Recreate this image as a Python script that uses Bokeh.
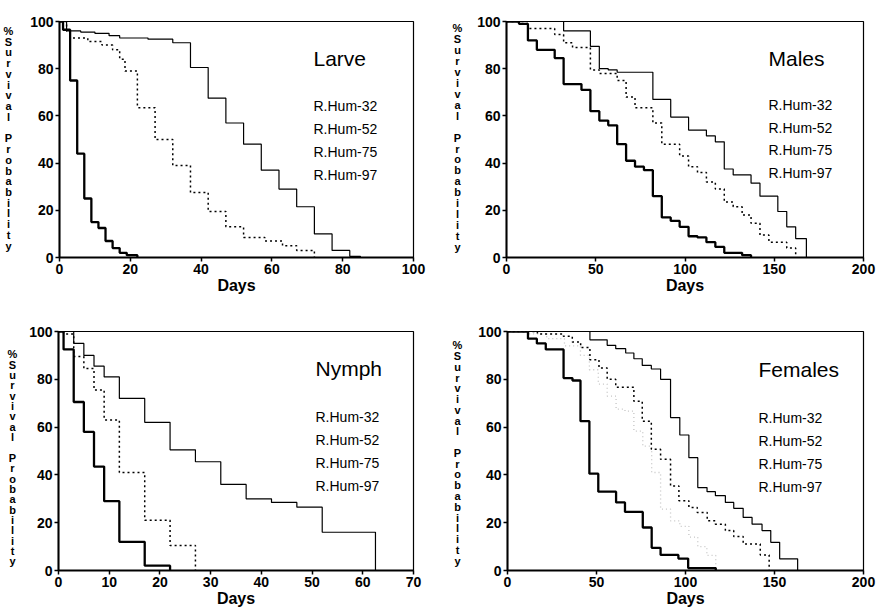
from bokeh.plotting import figure
from bokeh.layouts import column, row
from bokeh.models import Range1d, Label, FixedTicker, ColumnDataSource
from bokeh.core.properties import value
from bokeh.embed import file_html
from bokeh.resources import INLINE

FONT = "Liberation Sans"

# ---------------- data (days, % surviving) ----------------
larve_thick_x = [0, 1, 3, 5, 7, 9, 11, 13, 15, 17, 19, 22]
larve_thick_y = [100, 96.5, 75, 44, 25, 15, 12.5, 7, 4, 2, 1, 0]
larve_thin_x = [0, 2, 6, 10, 14, 17, 25, 32, 37, 42, 47, 52, 57, 62, 67, 72, 77, 82, 85]
larve_thin_y = [100, 96, 95.5, 95, 94, 93, 92.5, 91, 80.5, 67.5, 57, 48, 37, 29, 21.5, 10, 3, 0.5, 0]
larve_dot_x = [0, 2, 3, 8, 12, 15, 17, 18.5, 22, 27, 32, 37, 42, 47, 52, 58, 63, 67, 72]
larve_dot_y = [100, 96, 93, 91.5, 90, 88, 84, 79, 63.5, 50, 39, 27.5, 19.5, 13, 8.5, 7, 5, 3, 0]

males_thick_x = [0, 7, 12, 17, 27, 32, 42, 47, 52, 57, 62, 67, 72, 77, 82, 87, 92, 97, 102, 107, 112, 117, 122, 132, 137]
males_thick_y = [100, 99, 92, 88, 84.5, 73.5, 71, 62, 58, 56, 48, 41, 38.5, 37, 26, 17, 15.5, 13, 9, 8.5, 6.5, 4.5, 2, 1, 0]
males_thin_x = [0, 32, 47, 52, 57, 62, 82, 92, 102, 112, 117, 122, 127, 137, 142, 152, 157, 162, 168]
males_thin_y = [100, 96, 89.5, 80, 79.5, 78.5, 67, 59.5, 54, 51.5, 49, 37.5, 35, 31.5, 26, 19.5, 13, 8, 0]
males_dot_x = [0, 12, 27, 32, 37, 47, 52, 62, 67, 72, 82, 87, 97, 102, 107, 112, 117, 122, 127, 132, 137, 142, 147, 157, 162]
males_dot_y = [100, 97, 94.5, 91, 89, 79.5, 78, 75, 68, 63.5, 57, 48, 43, 38.5, 36, 32, 29, 23.5, 21.5, 18, 14.5, 9.5, 6.5, 4, 0]

nymph_thick_x = [0, 1, 3, 5, 7, 9, 12, 17, 22]
nymph_thick_y = [100, 92.5, 70.5, 58, 43.5, 29, 12, 2, 0]
nymph_thin_x = [0, 3, 5, 7, 9, 12, 17, 22, 27, 32, 37, 42, 47, 52, 62.5]
nymph_thin_y = [100, 95, 90, 85.5, 81, 72, 62, 50.5, 45.5, 36, 30, 28.5, 26.5, 16, 0]
nymph_dot_x = [0, 1, 3, 5, 7, 9, 12, 17, 22, 27]
nymph_dot_y = [100, 99, 89.5, 84.5, 75.5, 63, 41, 21, 10.5, 0]

fem_thick_x = [0, 11.5, 16.5, 21.5, 31.5, 36.5, 41, 46, 51, 61, 66, 76, 81, 86, 96, 101.5, 117]
fem_thick_y = [100, 97, 95, 92.5, 80.5, 79.5, 62.5, 40.5, 33, 28.5, 24.5, 18, 9.5, 6.5, 5, 1, 0]
fem_thin_x = [0, 46.3, 56, 60.8, 66.4, 71, 75.7, 80.8, 86, 91.6, 96.8, 101.9, 106.9, 112.1, 116.8, 122.4, 127.1, 132.4, 137.4, 143, 147.9, 152.9, 163]
fem_thin_y = [100, 96.5, 94.2, 92.8, 91, 88.6, 85.8, 84.3, 80, 64, 56.7, 47.2, 34.7, 33, 31.3, 28.5, 26, 22.2, 19.4, 16.7, 11.8, 4.9, 0]
fem_dot_x = [0, 16.8, 31.4, 36.4, 41.1, 46.3, 51.4, 56, 60.8, 71, 75.7, 80.8, 86, 91.6, 96.3, 101.9, 106.6, 112.2, 116.8, 122.4, 127.1, 132.4, 142, 147]
fem_dot_y = [100, 99, 98, 95.6, 93.3, 88.2, 84.7, 80, 76.7, 70.8, 62.5, 50.7, 46.5, 35.4, 29.2, 26.4, 24.3, 20.8, 19.4, 16.7, 14.2, 11.1, 6.5, 0]
fem_faint_x = [0, 12, 22, 32, 41, 46, 51, 56, 61, 66, 71, 76, 81, 86, 91.6, 96.8, 101.9, 106.9, 112, 117]
fem_faint_y = [100, 99, 97, 94, 90, 84, 78, 73, 67.5, 66.7, 58.3, 52, 41, 25.7, 20.8, 18.5, 14, 10, 6.3, 0]

strains = ["R.Hum-32", "R.Hum-52", "R.Hum-75", "R.Hum-97"]
y_ticks = [0, 20, 40, 60, 80, 100]
ylabel_chars = list("%Survival") + [""] + list("Probability")

LAB_W = 24


def ylabel_fig(height, cx, top, bottom):
    """Narrow figure holding the vertically stacked y-axis title."""
    f = figure(width=LAB_W, height=height, x_range=Range1d(0, LAB_W), y_range=Range1d(height, 0),
               output_backend="svg", toolbar_location=None, x_axis_location=None,
               y_axis_location=None, min_border=0)
    f.outline_line_color = None
    f.xgrid.visible = False
    f.ygrid.visible = False
    f.background_fill_color = "white"
    f.border_fill_color = "white"
    n = len(ylabel_chars)
    step = (bottom - top) / (n - 1)
    src = ColumnDataSource(dict(x=[cx] * n, y=[top + i * step for i in range(n)], t=ylabel_chars))
    f.text(x="x", y="y", text="t", source=src, text_font=value(FONT), text_font_style="bold",
           text_font_size="11px", text_color="black", text_align="center", text_baseline="middle")
    return f


def panel(width, height, bl, br, bt, bb, xmax, xticks, title, curves, title_px, legend_px):
    fw = width - bl - br
    fh = height - bt - bb
    p = figure(width=width, height=height, x_range=Range1d(0, xmax), y_range=Range1d(0, 100),
               output_backend="svg", toolbar_location=None,
               min_border_left=bl, min_border_right=br, min_border_top=bt, min_border_bottom=bb)
    p.xgrid.visible = False
    p.ygrid.visible = False
    p.outline_line_color = "black"
    p.outline_line_width = 1.2
    p.background_fill_color = "white"
    p.border_fill_color = "white"
    for ax in (p.xaxis[0], p.yaxis[0]):
        ax.axis_line_width = 2
        ax.axis_line_color = "black"
        ax.major_tick_line_width = 1.5
        ax.major_tick_out = 4
        ax.major_tick_in = 0
        ax.minor_tick_out = 0
        ax.minor_tick_in = 0
        ax.major_label_text_font = FONT
        ax.major_label_text_font_style = "bold"
        ax.major_label_text_font_size = "14px"
        ax.major_label_text_color = "black"
        ax.major_label_standoff = 2
    p.xaxis.ticker = FixedTicker(ticks=xticks)
    p.yaxis.ticker = FixedTicker(ticks=y_ticks)
    p.xaxis.axis_label = "Days"
    p.xaxis.axis_label_text_font = FONT
    p.xaxis.axis_label_text_font_style = "bold"
    p.xaxis.axis_label_text_font_size = "16px"
    p.xaxis.axis_label_text_color = "black"
    p.xaxis.axis_label_standoff = 0

    def dx(px):
        return px / fw * xmax

    def dy(px):
        return 100 - px / fh * 100

    for xs, ys, style in curves:
        if style == "thick":
            p.step(xs, ys, mode="after", line_color="black", line_width=2.3)
        elif style == "thin":
            p.step(xs, ys, mode="after", line_color="black", line_width=1.2)
        elif style == "dot":
            p.step(xs, ys, mode="after", line_color="black", line_width=1.5, line_dash="2 3")
        else:
            p.step(xs, ys, mode="after", line_color="#c4c4c4", line_width=1.3, line_dash="1 3")

    p.add_layout(Label(x=dx(title_px[0]), y=dy(title_px[1]), text=title, text_font=FONT,
                       text_font_size="21px", text_color="black", text_baseline="middle"))
    for i, s in enumerate(strains):
        p.add_layout(Label(x=dx(legend_px[0]), y=dy(legend_px[1] + 23 * i), text=s, text_font=FONT,
                           text_font_size="14px", text_color="black", text_baseline="middle"))
    return p


# top row: frames at y 20..257 (left) and 21..259 (right)
l1 = ylabel_fig(300, 8, 12, 285)
p1 = panel(440 - LAB_W, 300, 59 - LAB_W, 27, 20, 43, 100, [0, 20, 40, 60, 80, 100], "Larve",
           [(larve_thick_x, larve_thick_y, "thick"), (larve_thin_x, larve_thin_y, "thin"),
            (larve_dot_x, larve_dot_y, "dot")],
           (254, 37), (254, 85))
l2 = ylabel_fig(300, 17, 8, 287)
p2 = panel(440 - LAB_W, 300, 66 - LAB_W, 17, 21, 41, 200, [0, 50, 100, 150, 200], "Males",
           [(males_thick_x, males_thick_y, "thick"), (males_thin_x, males_thin_y, "thin"),
            (males_dot_x, males_dot_y, "dot")],
           (262, 37), (262, 84))
# bottom row: frames at y 331..571 / 330..570 (page), row starts at 300
l3 = ylabel_fig(313, 12, 30, 301)
p3 = panel(440 - LAB_W, 313, 58 - LAB_W, 27, 31, 42, 70, [0, 10, 20, 30, 40, 50, 60, 70], "Nymph",
           [(nymph_thick_x, nymph_thick_y, "thick"), (nymph_thin_x, nymph_thin_y, "thin"),
            (nymph_dot_x, nymph_dot_y, "dot")],
           (257, 37), (257, 86))
l4 = ylabel_fig(313, 17, 18, 300)
p4 = panel(440 - LAB_W, 313, 67 - LAB_W, 17, 30, 43, 200, [0, 50, 100, 150, 200], "Females",
           [(fem_faint_x, fem_faint_y, "faint"), (fem_thick_x, fem_thick_y, "thick"),
            (fem_thin_x, fem_thin_y, "thin"), (fem_dot_x, fem_dot_y, "dot")],
           (251, 38), (251, 87))

layout = column(row(l1, p1, l2, p2), row(l3, p3, l4, p4))
open("out.html", "w").write(file_html(layout, INLINE))
